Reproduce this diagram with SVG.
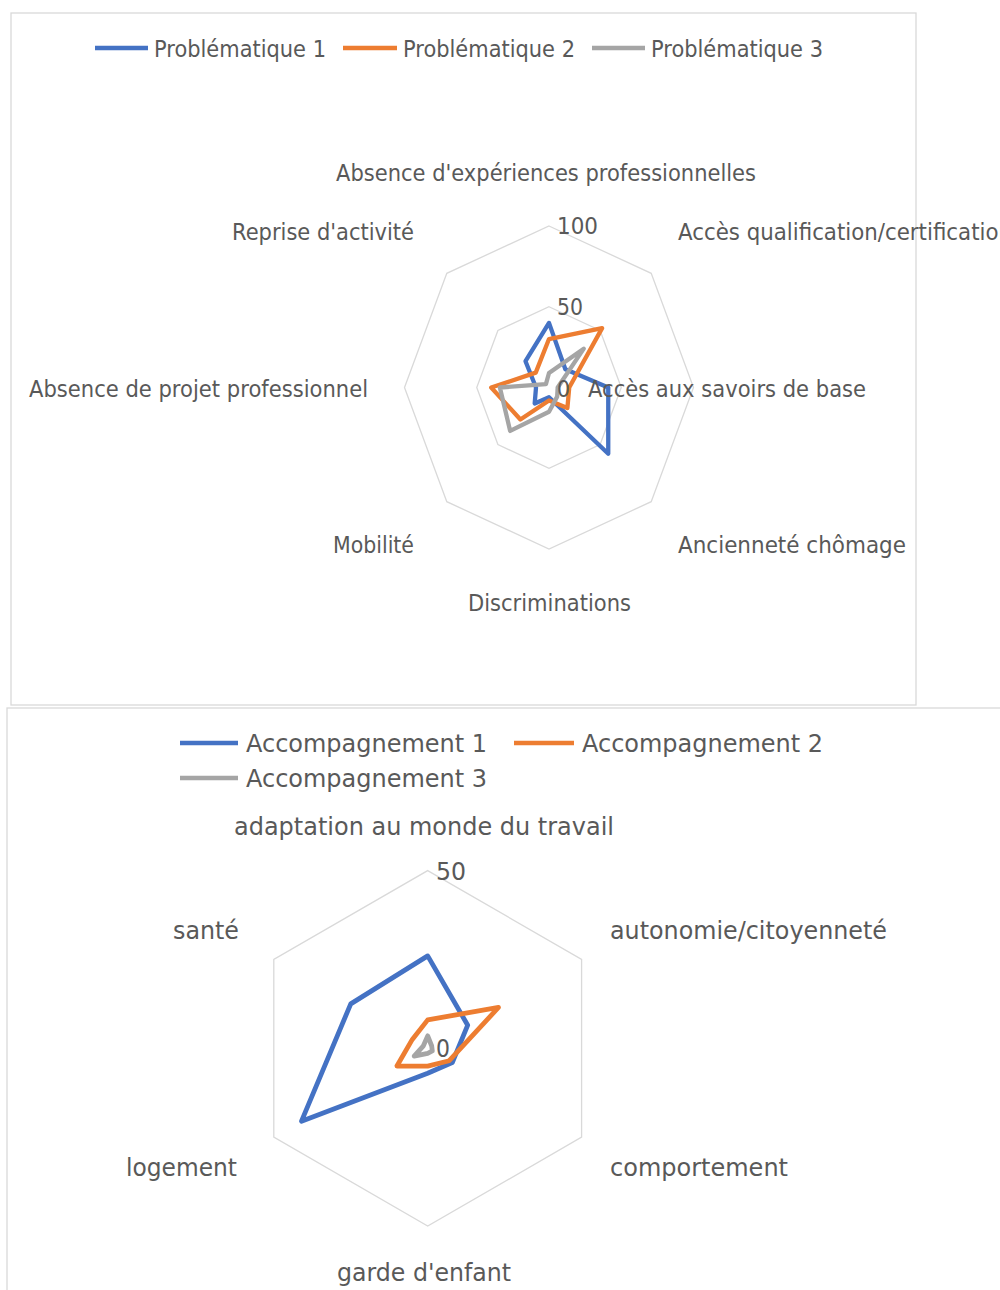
<svg xmlns="http://www.w3.org/2000/svg" width="1000" height="1290" viewBox="0 0 1000 1290">
  <style>
    .frame { fill: #ffffff; stroke: #d9d9d9; stroke-width: 1.3; }
    .grid { fill: none; stroke: #d9d9d9; stroke-width: 1.3; }
    .s1 { fill: none; stroke: #4472c4; stroke-width: 4.3; stroke-linejoin: round; }
    .s2 { fill: none; stroke: #ed7d31; stroke-width: 4.3; stroke-linejoin: round; }
    .s3 { fill: none; stroke: #a5a5a5; stroke-width: 4.3; stroke-linejoin: round; }
    .wide { stroke-width: 4.8; }
    .key1 { stroke: #4472c4; stroke-width: 4.5; }
    .key2 { stroke: #ed7d31; stroke-width: 4.5; }
    .key3 { stroke: #a5a5a5; stroke-width: 4.5; }
    text { font-family: "DejaVu Sans", "Liberation Sans", sans-serif; fill: #595959; }
    .t1 { font-size: 23.5px; }
    .t2 { font-size: 24px; }
  </style>

  <rect x="0" y="0" width="1000" height="1290" fill="#ffffff"/>

  <!-- Chart 1: problématiques (octagonal radar, 0..100) -->
  <g id="chart-problematiques">
    <rect class="frame" x="11" y="13" width="905" height="692"/>

    <g id="legend-problematiques">
      <line class="key1" x1="95" y1="48" x2="148" y2="48"/>
      <text class="t1" x="154" y="56.5" textLength="172" lengthAdjust="spacingAndGlyphs">Problématique 1</text>
      <line class="key2" x1="343" y1="48" x2="397" y2="48"/>
      <text class="t1" x="403" y="56.5" textLength="172" lengthAdjust="spacingAndGlyphs">Problématique 2</text>
      <line class="key3" x1="592" y1="48" x2="645" y2="48"/>
      <text class="t1" x="651" y="56.5" textLength="172" lengthAdjust="spacingAndGlyphs">Problématique 3</text>
    </g>

    <g id="grid-problematiques">
      <polygon class="grid" points="549,226 651.2,273.3 693.5,387.5 651.2,501.7 549,549 446.8,501.7 404.5,387.5 446.8,273.3"/>
      <polygon class="grid" points="549,306.75 600.1,330.4 621.25,387.5 600.1,444.6 549,468.25 497.9,444.6 476.75,387.5 497.9,330.4"/>
    </g>

    <g id="series-problematiques">
      <polygon id="p1" class="s1" points="549,322.9 565.35,369.23 608.25,387.5 608.26,453.73 549,397.19 534.7,403.49 536,387.5 525.5,361.23"/>
      <polygon id="p2" class="s2" points="549,339.05 602.13,328.12 569.23,387.5 567.39,408.06 549,400.42 520.39,419.48 491.2,387.5 535.72,372.65"/>
      <polygon id="p3" class="s3" points="549,372.96 583.74,348.67 557.67,387.5 557.17,396.64 549,411.73 510.17,430.9 499.87,387.5 545.93,384.07"/>
    </g>

    <g id="labels-problematiques">
      <text class="t1" x="557" y="234" textLength="41" lengthAdjust="spacingAndGlyphs">100</text>
      <text class="t1" x="557" y="315" textLength="26" lengthAdjust="spacingAndGlyphs">50</text>
      <text class="t1" x="557" y="396.5" textLength="13" lengthAdjust="spacingAndGlyphs">0</text>
      <text class="t1" x="336" y="180.5" textLength="420" lengthAdjust="spacingAndGlyphs">Absence d'expériences professionnelles</text>
      <text class="t1" x="678" y="239.5" textLength="334" lengthAdjust="spacingAndGlyphs">Accès qualification/certification</text>
      <text class="t1" x="588" y="396.5" textLength="278" lengthAdjust="spacingAndGlyphs">Accès aux savoirs de base</text>
      <text class="t1" x="678" y="552.5" textLength="228" lengthAdjust="spacingAndGlyphs">Ancienneté chômage</text>
      <text class="t1" x="468" y="610.5" textLength="163" lengthAdjust="spacingAndGlyphs">Discriminations</text>
      <text class="t1" x="333" y="552.5" textLength="81" lengthAdjust="spacingAndGlyphs">Mobilité</text>
      <text class="t1" x="29" y="396.5" textLength="339" lengthAdjust="spacingAndGlyphs">Absence de projet professionnel</text>
      <text class="t1" x="232" y="239.5" textLength="182" lengthAdjust="spacingAndGlyphs">Reprise d'activité</text>
    </g>
  </g>

  <!-- Chart 2: accompagnements (hexagonal radar, 0..50) -->
  <g id="chart-accompagnements">
    <rect class="frame" x="7" y="708" width="1100" height="700"/>

    <g id="legend-accompagnements">
      <line class="key1" x1="180" y1="743" x2="238" y2="743"/>
      <text class="t2" x="246" y="751.5" textLength="241" lengthAdjust="spacingAndGlyphs">Accompagnement 1</text>
      <line class="key2" x1="514" y1="743" x2="574" y2="743"/>
      <text class="t2" x="582" y="751.5" textLength="241" lengthAdjust="spacingAndGlyphs">Accompagnement 2</text>
      <line class="key3" x1="180" y1="778" x2="238" y2="778"/>
      <text class="t2" x="246" y="786.5" textLength="241" lengthAdjust="spacingAndGlyphs">Accompagnement 3</text>
    </g>

    <g id="grid-accompagnements">
      <polygon class="grid" points="427.7,870.6 581.6,959.45 581.6,1137.15 427.7,1226 273.8,1137.15 273.8,959.45"/>
    </g>

    <g id="series-accompagnements">
      <polygon id="a1" class="s1 wide" points="427.7,955.9 467.71,1025.2 452.32,1062.52 427.7,1073.18 301.51,1121.16 350.75,1003.87"/>
      <polygon id="a2" class="s2 wide" points="427.7,1019.87 498.49,1007.43 449.24,1060.74 427.7,1066.07 396.92,1066.07 412.31,1039.41"/>
      <polygon id="a3" class="s3 wide" points="427.7,1035.86 431.7,1046 432.32,1050.97 427.7,1053.28 414.16,1056.12 423.39,1045.81"/>
    </g>

    <g id="labels-accompagnements">
      <text class="t2" x="436" y="879.5" textLength="30" lengthAdjust="spacingAndGlyphs">50</text>
      <text class="t2" x="436" y="1056.5" textLength="14" lengthAdjust="spacingAndGlyphs">0</text>
      <text class="t2" x="234" y="834.5" textLength="380" lengthAdjust="spacingAndGlyphs">adaptation au monde du travail</text>
      <text class="t2" x="610" y="938.5" textLength="277" lengthAdjust="spacingAndGlyphs">autonomie/citoyenneté</text>
      <text class="t2" x="610" y="1175.5" textLength="178" lengthAdjust="spacingAndGlyphs">comportement</text>
      <text class="t2" x="337" y="1280.5" textLength="174" lengthAdjust="spacingAndGlyphs">garde d'enfant</text>
      <text class="t2" x="126" y="1175.5" textLength="111" lengthAdjust="spacingAndGlyphs">logement</text>
      <text class="t2" x="173" y="938.5" textLength="66" lengthAdjust="spacingAndGlyphs">santé</text>
    </g>
  </g>
</svg>
